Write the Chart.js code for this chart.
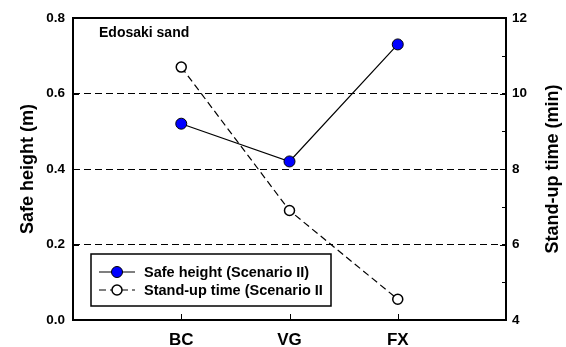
<!DOCTYPE html>
<html>
<head>
<meta charset="utf-8">
<title>Edosaki sand</title>
<script src="https://cdn.jsdelivr.net/npm/chart.js@4"></script>
<style>
  html, body { margin: 0; padding: 0; background: #fff; }
  #myChart { display: block; }
</style>
</head>
<body>
<canvas id="myChart" width="566" height="347"></canvas>
<script>
'use strict';

const categories = ['BC', 'VG', 'FX'];
const safeHeight = [0.52, 0.42, 0.73];
const standUpTime = [10.7, 6.9, 4.55];
const heightTicks = [0, 0.2, 0.4, 0.6, 0.8];
const timeTicks = [4, 6, 8, 10, 12];
const timeMinorTicks = [5, 7, 9, 11];
const legendLabels = ['Safe height (Scenario II)', 'Stand-up time (Scenario II'];

const FONT = 'Arial, "Liberation Sans", sans-serif';
const canvas = document.getElementById('myChart');

// puntos en x = 1, 2, 3 sobre un eje de 0 a 4
const toPoints = function (values) {
  return values.map((v, i) => ({ x: i + 1, y: v }));
};

// marco, ticks hacia dentro, textos y leyenda
const extras = {
  id: 'extras',
  afterDraw(chart) {
    const ctx = chart.ctx;
    const area = chart.chartArea;
    const sx = chart.scales.x;
    const sy = chart.scales.y;
    const sy1 = chart.scales.y1;

    ctx.save();
    ctx.strokeStyle = '#000';
    ctx.lineWidth = 2;
    ctx.setLineDash([]);
    ctx.strokeRect(area.left, area.top, area.right - area.left, area.bottom - area.top);

    ctx.lineWidth = 1;
    ctx.beginPath();
    categories.forEach((c, i) => {
      const px = Math.round(sx.getPixelForValue(i + 1)) + 0.5;
      ctx.moveTo(px, area.bottom);
      ctx.lineTo(px, area.bottom - 6);
    });
    heightTicks.forEach(v => {
      const py = Math.round(sy.getPixelForValue(v)) + 0.5;
      ctx.moveTo(area.left, py);
      ctx.lineTo(area.left + 6, py);
    });
    timeTicks.forEach(v => {
      const py = Math.round(sy1.getPixelForValue(v)) + 0.5;
      ctx.moveTo(area.right, py);
      ctx.lineTo(area.right - 6, py);
    });
    timeMinorTicks.forEach(v => {
      const py = Math.round(sy1.getPixelForValue(v)) + 0.5;
      ctx.moveTo(area.right, py);
      ctx.lineTo(area.right - 4, py);
    });
    ctx.stroke();

    // título del eje derecho, leído de abajo hacia arriba
    ctx.fillStyle = '#000';
    ctx.font = 'bold 18px ' + FONT;
    ctx.textAlign = 'center';
    ctx.textBaseline = 'middle';
    ctx.save();
    ctx.translate(553, (area.top + area.bottom) / 2);
    ctx.rotate(-Math.PI / 2);
    ctx.fillText('Stand-up time (min)', 0, 0);
    ctx.restore();

    // título interior
    ctx.font = 'bold 14px ' + FONT;
    ctx.textAlign = 'left';
    ctx.fillText('Edosaki sand', 99, 33);

    // leyenda
    const box = { x: 91, y: 254, w: 240, h: 52 };
    ctx.fillStyle = '#fff';
    ctx.fillRect(box.x, box.y, box.w, box.h);
    ctx.lineWidth = 1.5;
    ctx.strokeRect(box.x, box.y, box.w, box.h);

    const rows = [272, 290];
    chart.data.datasets.forEach((ds, i) => {
      const y = rows[i];
      ctx.lineWidth = 1.2;
      ctx.strokeStyle = '#000';
      ctx.setLineDash(ds.borderDash || []);
      ctx.beginPath();
      ctx.moveTo(99, y);
      ctx.lineTo(135, y);
      ctx.stroke();
      ctx.setLineDash([]);
      ctx.beginPath();
      ctx.arc(117, y, ds.pointRadius, 0, Math.PI * 2);
      ctx.fillStyle = ds.pointBackgroundColor;
      ctx.fill();
      ctx.lineWidth = ds.pointBorderWidth;
      ctx.stroke();
      ctx.fillStyle = '#000';
      ctx.font = 'bold 14.5px ' + FONT;
      ctx.fillText(legendLabels[i], 144, y + 1);
    });
    ctx.restore();
  },
};

const myChart = new Chart(canvas, {
  type: 'line',
  data: {
    datasets: [
      {
        label: legendLabels[0],
        data: toPoints(safeHeight),
        yAxisID: 'y',
        borderColor: '#000',
        borderWidth: 1.2,
        pointRadius: 5.5,
        pointBackgroundColor: '#0000ff',
        pointBorderColor: '#000',
        pointBorderWidth: 1,
      },
      {
        label: legendLabels[1],
        data: toPoints(standUpTime),
        yAxisID: 'y1',
        borderColor: '#000',
        borderWidth: 1.2,
        borderDash: [7, 4],
        pointRadius: 5,
        pointBackgroundColor: '#fff',
        pointBorderColor: '#000',
        pointBorderWidth: 1.5,
      },
    ],
  },
  options: {
    responsive: false,
    animation: false,
    devicePixelRatio: 1,
    layout: { padding: { top: 18, left: 0, right: 0, bottom: 0 } },
    plugins: {
      legend: { display: false },
      tooltip: { enabled: false },
    },
    scales: {
      x: {
        type: 'linear',
        min: 0,
        max: 4,
        afterBuildTicks: scale => {
          scale.ticks = categories.map((c, i) => ({ value: i + 1 }));
        },
        afterFit: scale => {
          scale.height = 27;
        },
        ticks: {
          callback: v => categories[v - 1],
          font: { family: FONT, size: 17, weight: 'bold' },
          color: '#000',
          padding: 10,
          maxRotation: 0,
        },
        grid: { display: false, drawTicks: false },
        border: { display: false },
      },
      y: {
        position: 'left',
        min: 0,
        max: 0.8,
        afterBuildTicks: scale => {
          scale.ticks = heightTicks.map(v => ({ value: v }));
        },
        afterFit: scale => {
          scale.width = 73;
        },
        ticks: {
          callback: v => v.toFixed(1),
          font: { family: FONT, size: 13.5, weight: 'bold' },
          color: '#000',
          padding: 8,
        },
        grid: {
          drawTicks: false,
          color: ctx => (ctx.tick && ctx.tick.value > 0.01 && ctx.tick.value < 0.79 ? '#000' : 'rgba(0,0,0,0)'),
          lineWidth: 1,
        },
        border: { display: false, dash: [7, 4] },
        title: {
          display: true,
          text: 'Safe height (m)',
          font: { family: FONT, size: 18, weight: 'bold' },
          color: '#000',
          padding: { top: 17, bottom: 4 },
        },
      },
      y1: {
        position: 'right',
        min: 4,
        max: 12,
        afterBuildTicks: scale => {
          scale.ticks = timeTicks.map(v => ({ value: v }));
        },
        afterFit: scale => {
          scale.width = 60;
        },
        ticks: {
          font: { family: FONT, size: 13.5, weight: 'bold' },
          color: '#000',
          padding: 6,
        },
        grid: { display: false, drawTicks: false },
        border: { display: false },
      },
    },
  },
  plugins: [extras],
});
</script>
</body>
</html>
